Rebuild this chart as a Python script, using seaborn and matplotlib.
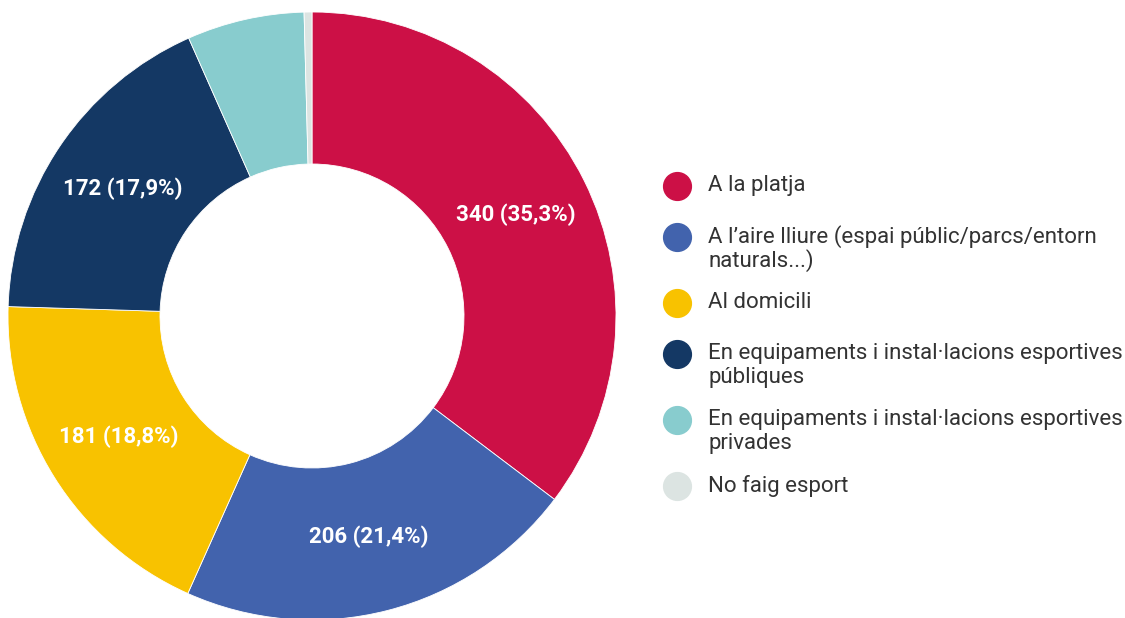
import numpy as np
import matplotlib
matplotlib.use("Agg")
import matplotlib.pyplot as plt
import seaborn as sns

# data
categories = ["A la platja",
              "A l’aire lliure (espai públic/parcs/entorn\nnaturals...)",
              "Al domicili",
              "En equipaments i instal·lacions esportives\npúbliques",
              "En equipaments i instal·lacions esportives\nprivades",
              "No faig esport"]
counts = [340, 206, 181, 172, 60, 4]
pct_labels = ["35,3%", "21,4%", "18,8%", "17,9%", "", ""]
show_label = [True, True, True, True, False, False]
colors = ["#CC1046", "#4263AD", "#F8C200", "#143864", "#88CCCE", "#DCE4E2"]

sns.set_theme(style="white")
plt.rcParams['font.family'] = ['Roboto', 'DejaVu Sans']
palette = sns.color_palette(colors)

fig = plt.figure(figsize=(11.25, 6.18), dpi=100)
W, H = 1125, 618
R = 304
cx, cy = 312, 316
ax = fig.add_axes([(cx - R) / W, (H - cy - R) / H, 2 * R / W, 2 * R / H])

wedges, _ = ax.pie(counts, colors=palette, startangle=90, counterclock=False,
                   radius=1.0, wedgeprops=dict(width=0.5, edgecolor="white", linewidth=0.6))
ax.set_xlim(-1, 1)
ax.set_ylim(-1, 1)
ax.set_aspect("equal")
ax.axis("off")

# value labels inside the ring
for w, c, p, show in zip(wedges, counts, pct_labels, show_label):
    if not show:
        continue
    ang = np.deg2rad((w.theta1 + w.theta2) / 2)
    r = 0.75
    ax.text(r * np.cos(ang), r * np.sin(ang), f"{c} ({p})", ha="center", va="center",
            color="white", fontsize=16, fontweight="bold")

# legend drawn by hand so the dot sits on the first line
y = 186
for lab, col in zip(categories, palette):
    fig.lines.append(plt.Line2D([677 / W], [1 - y / H], marker="o", markersize=20,
                                color=col, linestyle="none", transform=fig.transFigure))
    for i, line in enumerate(lab.split("\n")):
        fig.text(708 / W, 1 - (y + 24 * i) / H, line, ha="left", va="center",
                 fontsize=16, color="#333333")
    y += 51 + 15 * lab.count("\n")

fig.savefig("out.png", dpi=100, facecolor="white")
